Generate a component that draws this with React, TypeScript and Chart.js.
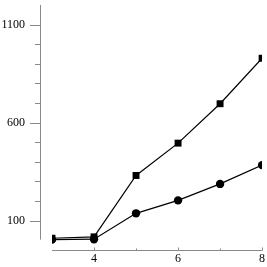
import { useEffect, useRef } from "react";
import { Chart, registerables } from "chart.js";

Chart.register(...registerables);

const xValues = [3, 4, 5, 6, 7, 8];
const squareSeries = [10, 17, 330, 495, 696, 928];
const circleSeries = [3, 5, 137, 203, 287, 383];
const yMajorTicks = [100, 600, 1100];
const yMinorTicks = [200, 300, 400, 500, 700, 800, 900, 1000];
const xMajorTicks = [4, 6, 8];
const xMinorTicks = [5, 7];
const yRange = [-50, 1200];
const xRange = [3, 8];

const axisColor = "#8a8a8a";

const axesPlugin = {
  id: "detachedAxes",
  beforeDatasetsDraw(chart: any) {
    const { ctx, chartArea, scales } = chart;
    const x = scales.x;
    const y = scales.y;
    const crisp = (v: number) => Math.round(v) + 0.5;
    ctx.save();
    ctx.strokeStyle = axisColor;
    ctx.lineWidth = 1;
    // y axis (detached to the left)
    const ax = crisp(chartArea.left - 12.5);
    const dataMin = Math.min(...squareSeries, ...circleSeries);
    ctx.beginPath();
    ctx.moveTo(ax, chartArea.top);
    ctx.lineTo(ax, y.getPixelForValue(dataMin));
    ctx.stroke();
    ctx.beginPath();
    yMajorTicks.forEach((v) => {
      const py = crisp(y.getPixelForValue(v));
      ctx.moveTo(ax - 10.5, py);
      ctx.lineTo(ax, py);
    });
    yMinorTicks.forEach((v) => {
      const py = crisp(y.getPixelForValue(v));
      ctx.moveTo(ax - 5.5, py);
      ctx.lineTo(ax, py);
    });
    ctx.stroke();
    // x axis
    const ay = crisp(chartArea.bottom);
    ctx.beginPath();
    ctx.moveTo(x.getPixelForValue(xRange[0]), ay);
    ctx.lineTo(x.getPixelForValue(xRange[1]), ay);
    xMajorTicks.forEach((v) => {
      const px = crisp(x.getPixelForValue(v));
      ctx.moveTo(px, ay);
      ctx.lineTo(px, ay - 3);
    });
    xMinorTicks.forEach((v) => {
      const px = crisp(x.getPixelForValue(v));
      ctx.moveTo(px, ay);
      ctx.lineTo(px, ay - 2);
    });
    ctx.stroke();
    ctx.restore();
  },
};

export default function App() {
  const ref = useRef<HTMLCanvasElement | null>(null);
  useEffect(() => {
    if (!ref.current) return;
    const font = { family: "'Liberation Serif', 'DejaVu Serif', serif", size: 12 };
    const chart = new Chart(ref.current, {
      type: "line",
      data: {
        datasets: [
          {
            label: "squares",
            data: xValues.map((xv, i) => ({ x: xv, y: squareSeries[i] })),
            borderColor: "#000",
            backgroundColor: "#000",
            borderWidth: 1.2,
            pointStyle: "rect",
            pointRadius: 4.9,
            pointBorderWidth: 0,
            pointBackgroundColor: "#000",
          },
          {
            label: "circles",
            data: xValues.map((xv, i) => ({ x: xv, y: circleSeries[i] })),
            borderColor: "#000",
            backgroundColor: "#000",
            borderWidth: 1.2,
            pointStyle: "circle",
            pointRadius: 4.2,
            pointBorderWidth: 0,
            pointBackgroundColor: "#000",
          },
        ],
      },
      options: {
        animation: false,
        responsive: false,
        events: [],
        layout: { padding: { left: 0, right: 4.3, top: 0, bottom: 0 } },
        plugins: { legend: { display: false }, tooltip: { enabled: false } },
        scales: {
          x: {
            type: "linear",
            min: xRange[0],
            max: xRange[1],
            grid: { display: false, drawTicks: false },
            border: { display: false },
            afterBuildTicks: (s: any) => {
              s.ticks = xMajorTicks.map((v) => ({ value: v }));
            },
            afterFit: (s: any) => {
              s.height = 17;
              s.paddingLeft = 0;
              s.paddingRight = 0;
            },
            ticks: { color: "#000", font, padding: 2, maxRotation: 0, callback: (v: any) => String(v) },
          },
          y: {
            type: "linear",
            min: yRange[0],
            max: yRange[1],
            grid: { display: false, drawTicks: false },
            border: { display: false },
            afterBuildTicks: (s: any) => {
              s.ticks = yMajorTicks.map((v) => ({ value: v }));
            },
            afterFit: (s: any) => {
              s.width = 52;
              s.paddingTop = 0;
              s.paddingBottom = 0;
            },
            ticks: { color: "#000", font, padding: 27, callback: (v: any) => String(v) },
          },
        },
      },
      plugins: [axesPlugin],
    });
    return () => chart.destroy();
  }, []);
  return (
    <div style={{ position: "absolute", left: 0, top: 0, width: 267, height: 267 }}>
      <canvas ref={ref} width={267} height={267} style={{ display: "block" }} />
    </div>
  );
}
